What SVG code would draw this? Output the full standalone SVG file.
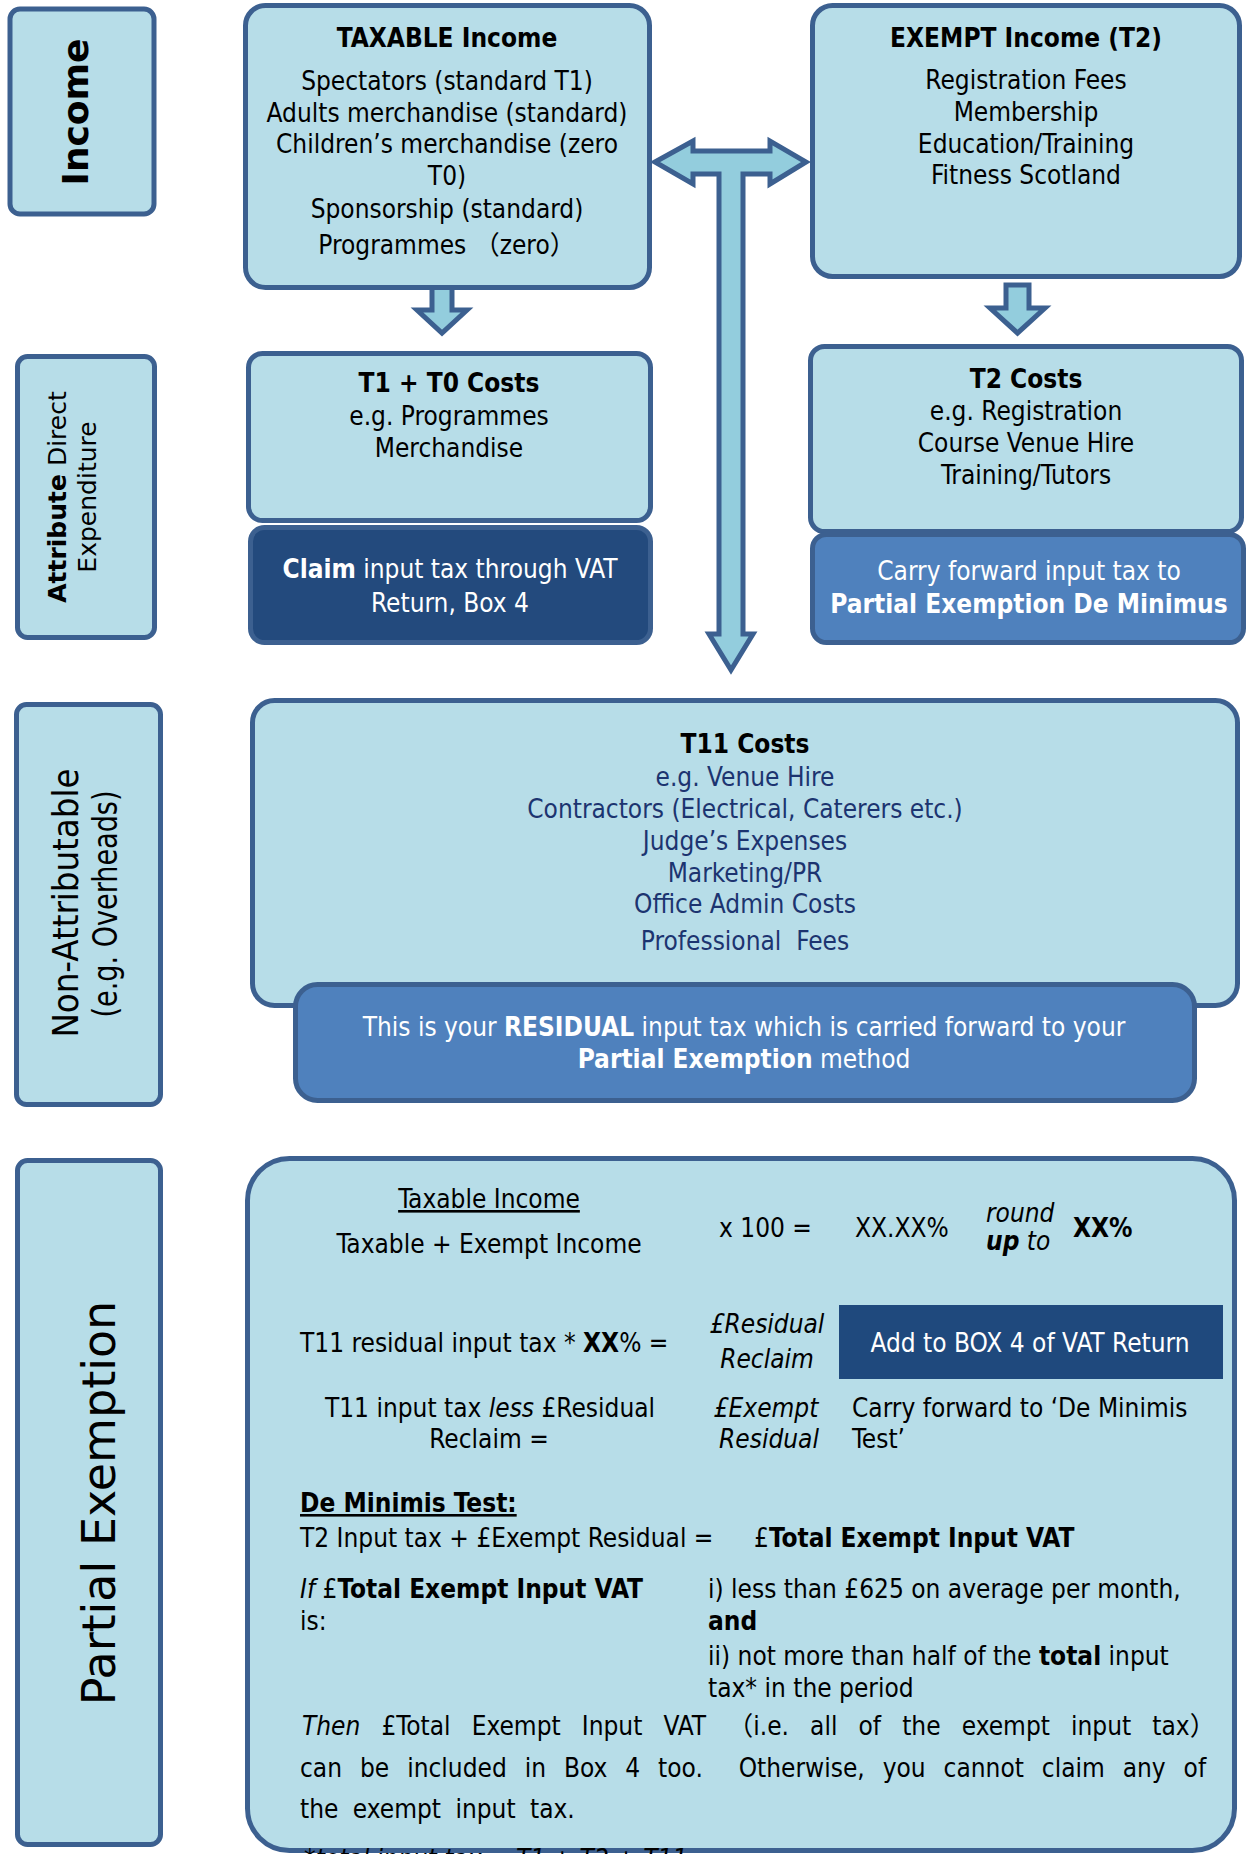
<svg xmlns="http://www.w3.org/2000/svg" width="1247" height="1854" viewBox="0 0 1247 1854">
<style>
.box{fill:#B7DDE8;stroke:#3C6090;stroke-width:5}
.dark{fill:#234A7D;stroke:#3C6090;stroke-width:5}
.mid{fill:#4F81BD;stroke:#3C6090;stroke-width:5}
.arrow{fill:#93CDDD;stroke:#3C6090;stroke-width:5;stroke-linejoin:miter}
.t{font-family:"DejaVu Sans Condensed","DejaVu Sans","Noto Sans CJK SC",sans-serif;font-stretch:condensed;font-size:26px;fill:#000}
.c{text-anchor:middle}
.b{font-weight:bold}
.i{font-style:italic}
.w{fill:#fff}
.n{fill:#1C3470}
.v{font-family:"DejaVu Sans",sans-serif;fill:#000}
.vc{font-family:"DejaVu Sans Condensed","DejaVu Sans",sans-serif;font-stretch:condensed;fill:#000}
</style>

<g id="connectors">
  <polygon id="arrow-taxable-down" class="arrow" points="432,285 452,285 452,310 467,310 442,333 417,310 432,310"/>
  <polygon id="arrow-exempt-down" class="arrow" points="1006,285 1029,285 1029,308 1045,308 1017.5,333 990,308 1006,308"/>
</g>

<g id="label-income">
  <rect class="box" x="10" y="9" width="144" height="205" rx="10"/>
  <text class="v b" font-size="36" transform="translate(88,112) rotate(-90)" text-anchor="middle">Income</text>
</g>

<g id="node-taxable">
  <rect class="box" x="245.5" y="5.5" width="404" height="282" rx="20"/>
  <text class="t c b" x="447" y="47">TAXABLE Income</text>
  <text class="t c" x="447" y="90">Spectators (standard T1)</text>
  <text class="t c" x="447" y="122">Adults merchandise (standard)</text>
  <text class="t c" x="447" y="153">Children’s merchandise (zero</text>
  <text class="t c" x="447" y="185">T0)</text>
  <text class="t c" x="447" y="218">Sponsorship (standard)</text>
  <text class="t c" x="447" y="254">Programmes （zero）</text>
</g>

<g id="node-exempt">
  <rect class="box" x="812.5" y="5.5" width="427" height="271" rx="20"/>
  <text class="t c b" x="1026" y="47">EXEMPT Income (T2)</text>
  <text class="t c" x="1026" y="89">Registration Fees</text>
  <text class="t c" x="1026" y="121">Membership</text>
  <text class="t c" x="1026" y="153">Education/Training</text>
  <text class="t c" x="1026" y="184">Fitness Scotland</text>
</g>

<g id="label-attribute">
  <rect class="box" x="17.5" y="356.5" width="137" height="281" rx="10"/>
  <text class="v" font-size="25" transform="translate(66,497) rotate(-90)" text-anchor="middle"><tspan font-weight="bold">Attribute</tspan> Direct</text>
  <text class="v" font-size="25" transform="translate(96,497) rotate(-90)" text-anchor="middle">Expenditure</text>
</g>

<g id="node-t1t0">
  <rect class="box" x="248.5" y="353.5" width="402" height="167" rx="14"/>
  <text class="t c b" x="449" y="392">T1 + T0 Costs</text>
  <text class="t c" x="449" y="425">e.g. Programmes</text>
  <text class="t c" x="449" y="457">Merchandise</text>
</g>

<g id="node-claim">
  <rect class="dark" x="250.5" y="527.5" width="400" height="115" rx="14"/>
  <text class="t c w" x="450" y="578"><tspan font-weight="bold">Claim</tspan> input tax through VAT</text>
  <text class="t c w" x="450" y="612">Return, Box 4</text>
</g>

<g id="node-t2">
  <rect class="box" x="810.5" y="346.5" width="431" height="185" rx="14"/>
  <text class="t c b" x="1026" y="388">T2 Costs</text>
  <text class="t c" x="1026" y="420">e.g. Registration</text>
  <text class="t c" x="1026" y="452">Course Venue Hire</text>
  <text class="t c" x="1026" y="484">Training/Tutors</text>
</g>

<g id="node-carry">
  <rect class="mid" x="812.5" y="534.5" width="431" height="108" rx="14"/>
  <text class="t c w" x="1029" y="580">Carry forward input tax to</text>
  <text class="t c w b" x="1029" y="613">Partial Exemption De Minimus</text>
</g>

<g id="connector-t">
  <polygon class="arrow" points="655,162 693,141 693,151 770,151 770,141 806,162 770,184 770,174 743,174 743,634 753,634 731,670 709,634 719,634 719,174 693,174 693,184"/>
</g>

<g id="label-nonattr">
  <rect class="box" x="16.5" y="704.5" width="144" height="400" rx="10"/>
  <text class="vc" font-size="36" transform="translate(78,903) rotate(-90)" text-anchor="middle" textLength="269" lengthAdjust="spacingAndGlyphs">Non-Attributable</text>
  <text class="vc" font-size="34" transform="translate(117,904) rotate(-90)" text-anchor="middle" textLength="227" lengthAdjust="spacingAndGlyphs">(e.g.  Overheads)</text>
</g>

<g id="node-t11">
  <rect class="box" x="252.5" y="700.5" width="985" height="305" rx="22"/>
  <text class="t c b" x="745" y="753">T11 Costs</text>
  <text class="t c n" x="745" y="786">e.g. Venue Hire</text>
  <text class="t c n" x="745" y="818">Contractors (Electrical, Caterers etc.)</text>
  <text class="t c n" x="745" y="850">Judge’s Expenses</text>
  <text class="t c n" x="745" y="882">Marketing/PR</text>
  <text class="t c n" x="745" y="913">Office Admin Costs</text>
  <text class="t c n" x="745" y="950" xml:space="preserve">Professional  Fees</text>
</g>

<g id="node-residual">
  <rect class="mid" x="295.5" y="984.5" width="899" height="116" rx="22"/>
  <text class="t c w" x="744" y="1036">This is your <tspan font-weight="bold">RESIDUAL</tspan> input tax which is carried forward to your</text>
  <text class="t c w" x="744" y="1068"><tspan font-weight="bold">Partial Exemption</tspan> method</text>
</g>

<g id="label-partial">
  <rect class="box" x="17.5" y="1160.5" width="143" height="684" rx="10"/>
  <text class="v" font-size="46" transform="translate(115,1503) rotate(-90)" text-anchor="middle">Partial Exemption</text>
</g>

<g id="node-partial">
  <rect class="box" x="247.5" y="1158.5" width="987" height="692" rx="42"/>
  <text class="t c" x="489" y="1208" text-decoration="underline">Taxable Income</text>
  <text class="t c" x="489" y="1253">Taxable + Exempt Income</text>
  <text class="t" x="719" y="1237">x 100 =</text>
  <text class="t" x="855" y="1237">XX.XX%</text>
  <text class="t i" x="986" y="1222">round</text>
  <text class="t i" x="986" y="1250"><tspan font-weight="bold">up</tspan> to</text>
  <text class="t b" x="1073" y="1237">XX%</text>

  <text class="t" x="300" y="1352">T11 residual input tax * <tspan font-weight="bold">XX</tspan>% =</text>
  <text class="t c i" x="767" y="1333">£Residual</text>
  <text class="t c i" x="767" y="1368">Reclaim</text>
  <rect x="839" y="1305" width="384" height="74" fill="#1F497D"/>
  <text class="t c w" x="1030" y="1352">Add to BOX 4 of VAT Return</text>

  <text class="t c" x="490" y="1417">T11 input tax <tspan font-style="italic">less</tspan> £Residual</text>
  <text class="t c" x="489" y="1448">Reclaim =</text>
  <text class="t c i" x="766" y="1417">£Exempt</text>
  <text class="t c i" x="769" y="1448">Residual</text>
  <text class="t" x="852" y="1417">Carry forward to ‘De Minimis</text>
  <text class="t" x="852" y="1448">Test’</text>

  <text class="t b" x="300" y="1512" text-decoration="underline">De Minimis Test:</text>
  <text class="t" x="300" y="1547">T2 Input tax + £Exempt Residual =</text>
  <text class="t" x="754" y="1547">£<tspan font-weight="bold">Total Exempt Input VAT</tspan></text>

  <text class="t" x="300" y="1598"><tspan font-style="italic">If</tspan> £<tspan font-weight="bold">Total Exempt Input VAT</tspan></text>
  <text class="t" x="300" y="1630">is:</text>
  <text class="t" x="708" y="1598">i) less than £625 on average per month,</text>
  <text class="t b" x="708" y="1630">and</text>
  <text class="t" x="708" y="1665">ii) not more than half of the <tspan font-weight="bold">total</tspan> input</text>
  <text class="t" x="708" y="1697">tax* in the period</text>

  <text class="t" x="302" y="1735" word-spacing="13.7"><tspan font-style="italic">Then</tspan> £Total Exempt Input VAT （i.e. all of the exempt input tax）</text>
  <text class="t" x="300" y="1777" word-spacing="10.5" xml:space="preserve">can be included in Box 4 too.  Otherwise, you cannot claim any of</text>
  <text class="t" x="300" y="1818" word-spacing="7">the exempt input tax.</text>
  <text class="t i" x="304" y="1868">*total input tax = T1 + T2 + T11</text>
</g>
</svg>
